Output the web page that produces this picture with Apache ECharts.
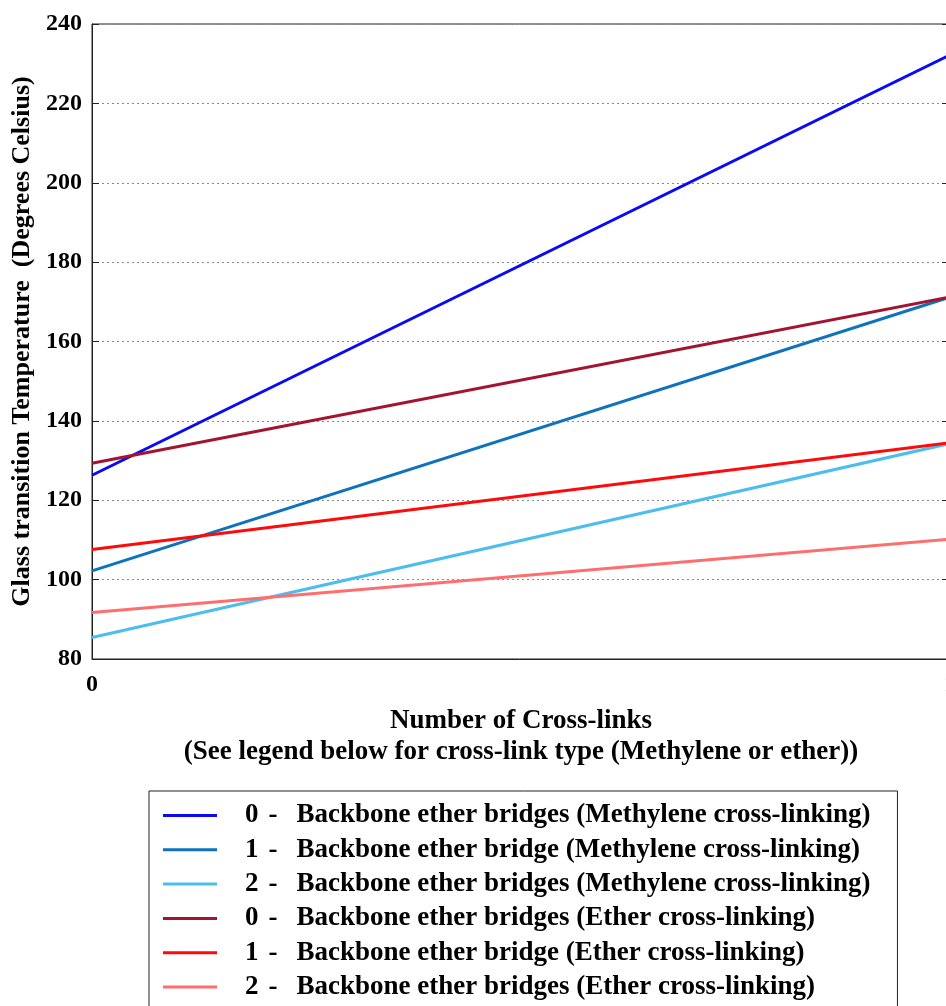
<!DOCTYPE html>
<html>
<head>
<meta charset="utf-8">
<script src="https://cdn.jsdelivr.net/npm/echarts@6/dist/echarts.min.js"></script>
<style>
  html, body { margin: 0; padding: 0; background: #fff; }
  #chart { width: 946px; height: 1006px; }
</style>
</head>
<body>
<div id="chart"></div>
<script>
// Number of cross-links (x positions)
const crossLinks = [0, 1];

// Glass transition temperature (°C) at 0 and 1 cross-links
const methylene0 = [126.3, 232.2];
const methylene1 = [102.2, 171.2];
const methylene2 = [85.4, 134.3];
const ether0 = [129.3, 171.2];
const ether1 = [107.6, 134.5];
const ether2 = [91.7, 110.2];

const seriesNames = [
  '0 - Backbone ether bridges (Methylene cross-linking)',
  '1 - Backbone ether bridge (Methylene cross-linking)',
  '2 - Backbone ether bridges (Methylene cross-linking)',
  '0 - Backbone ether bridges (Ether cross-linking)',
  '1 - Backbone ether bridge (Ether cross-linking)',
  '2 - Backbone ether bridges (Ether cross-linking)'
];
const seriesValues = [methylene0, methylene1, methylene2, ether0, ether1, ether2];
const seriesColors = ['#0a0af5', '#0f72bd', '#4dbdee', '#a2142f', '#ff0a0a', '#ff6e6e'];

const yTicks = { min: 80, max: 240, step: 20 };

const FONT = '"Liberation Serif", "Times New Roman", serif';
const bold = (size, extra) => Object.assign({ fontFamily: FONT, fontWeight: 'bold', fontSize: size, color: '#000' }, extra || {});

const chart = echarts.init(document.getElementById('chart'), null, { renderer: 'canvas' });

const series = seriesNames.map((name, i) => ({
  name,
  type: 'line',
  data: crossLinks.map((x, j) => [x, seriesValues[i][j]]),
  showSymbol: false,
  symbol: 'none',
  lineStyle: { width: 3, color: seriesColors[i] },
  itemStyle: { color: seriesColors[i] },
  emphasis: { disabled: true },
  animation: false,
  z: 2 + i
}));

chart.setOption({
  animation: false,
  backgroundColor: '#ffffff',
  grid: {
    left: 92, top: 24, width: 858, height: 635,
    outerBoundsMode: 'none',
    containLabel: false,
    show: true, borderColor: '#222', borderWidth: 1, backgroundColor: 'transparent'
  },
  xAxis: {
    type: 'value',
    min: 0, max: 1, interval: 1,
    name: 'Number of Cross-links\n(See legend below for cross-link type (Methylene or ether))',
    nameLocation: 'middle',
    nameGap: 47,
    nameTextStyle: bold(27, { lineHeight: 31, verticalAlign: 'top' }),
    axisLine: { show: true, lineStyle: { color: '#222', width: 1 } },
    axisTick: { show: false },
    splitLine: { show: false },
    axisLabel: bold(24, { margin: 14, showMaxLabel: true, showMinLabel: true, hideOverlap: false })
  },
  yAxis: [{
    type: 'value',
    min: yTicks.min, max: yTicks.max, interval: yTicks.step,
    name: 'Glass transition Temperature  (Degrees Celsius)',
    nameLocation: 'middle',
    nameGap: 53,
    nameRotate: 90,
    nameTextStyle: bold(26),
    axisLine: { show: true, lineStyle: { color: '#222', width: 1 } },
    axisTick: { show: true, inside: true, length: 7, lineStyle: { color: '#222' } },
    splitLine: { show: true, lineStyle: { color: '#8a8a8a', width: 1, type: [2, 3] } },
    axisLabel: bold(24, { margin: 10 })
  }, {
    type: 'value',
    position: 'right',
    min: yTicks.min, max: yTicks.max, interval: yTicks.step,
    axisLine: { show: false },
    axisTick: { show: true, inside: true, length: 8, lineStyle: { color: '#222' } },
    splitLine: { show: false },
    axisLabel: { show: false }
  }],
  legend: {
    orient: 'vertical',
    left: 149, top: 791,
    height: 400,
    padding: [11, 27, 12, 14],
    itemGap: 7.3,
    itemWidth: 54, itemHeight: 3,
    icon: 'rect',
    borderColor: '#222', borderWidth: 1,
    backgroundColor: '#fff',
    selectedMode: false,
    data: seriesNames,
    formatter: name => {
      const m = name.match(/^(\d) - (.*)$/);
      return '{num|' + m[1] + '}{dash|-}{txt|' + m[2] + '}';
    },
    textStyle: bold(27, {
      lineHeight: 24,
      rich: {
        num: bold(27, { lineHeight: 24, padding: [0, 0, 0, 23] }),
        dash: bold(27, { lineHeight: 24, padding: [0, 9, 0, 10] }),
        txt: bold(27, { lineHeight: 24, padding: [0, 0, 0, 10] })
      }
    })
  },
  series
});
</script>
</body>
</html>
